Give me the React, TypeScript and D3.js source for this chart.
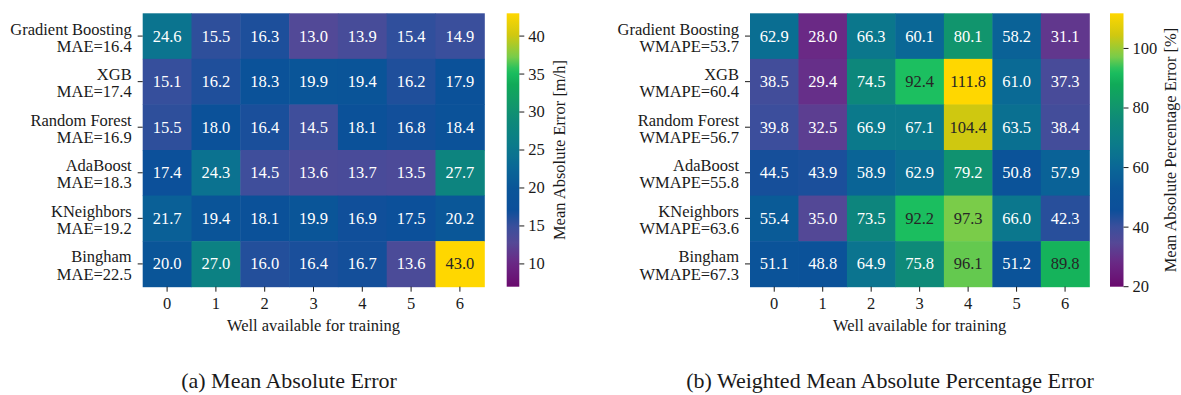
import React from "react";
import * as d3 from "d3";

// Models, one heatmap row each
const models = ["Gradient Boosting", "XGB", "Random Forest", "AdaBoost", "KNeighbors", "Bingham"];
// Wells available for training (columns)
const wells = [0, 1, 2, 3, 4, 5, 6];

// Mean absolute error [m/h] per model (rows) and well (columns)
const maeValues = [
  [24.6, 15.5, 16.3, 13.0, 13.9, 15.4, 14.9],
  [15.1, 16.2, 18.3, 19.9, 19.4, 16.2, 17.9],
  [15.5, 18.0, 16.4, 14.5, 18.1, 16.8, 18.4],
  [17.4, 24.3, 14.5, 13.6, 13.7, 13.5, 27.7],
  [21.7, 19.4, 18.1, 19.9, 16.9, 17.5, 20.2],
  [20.0, 27.0, 16.0, 16.4, 16.7, 13.6, 43.0],
];
const maeOverall = [16.4, 17.4, 16.9, 18.3, 19.2, 22.5];
const maeTicks = [10, 15, 20, 25, 30, 35, 40];
const maeRange = [7.0, 43.0];

// Weighted mean absolute percentage error [%]
const wmapeValues = [
  [62.9, 28.0, 66.3, 60.1, 80.1, 58.2, 31.1],
  [38.5, 29.4, 74.5, 92.4, 111.8, 61.0, 37.3],
  [39.8, 32.5, 66.9, 67.1, 104.4, 63.5, 38.4],
  [44.5, 43.9, 58.9, 62.9, 79.2, 50.8, 57.9],
  [55.4, 35.0, 73.5, 92.2, 97.3, 66.0, 42.3],
  [51.1, 48.8, 64.9, 75.8, 96.1, 51.2, 89.8],
];
const wmapeOverall = [53.7, 60.4, 56.7, 55.8, 63.6, 67.3];
const wmapeTicks = [20, 40, 60, 80, 100];
const wmapeRange = [20, 111.8];

const FONT =
  "'Liberation Serif', 'Noto Serif', 'DejaVu Serif', 'Nimbus Roman', FreeSerif, Times, serif";
const FS = 16.5;
const INK = "#1a1a1a";

// Bright viridis-like palette used for cells and colour bars
const paletteStops = [0, 0.09, 0.16, 0.22, 0.28, 0.36, 0.44, 0.52, 0.61, 0.66, 0.74, 0.79, 0.84, 0.92, 1];
const paletteColors = [
  "#6a0a6e", "#6a2a86", "#554896", "#3a4f9c", "#0c4f9a", "#0a5598", "#0a6896", "#0b7b8a",
  "#0e8a78", "#11966c", "#10aa58", "#1cc060", "#78cc4a", "#d0c810", "#ffd700",
];
const palette = d3
  .scaleLinear<string>()
  .domain(paletteStops)
  .range(paletteColors)
  .interpolate(d3.interpolateRgb)
  .clamp(true);

function luminance(color: string) {
  const c = d3.rgb(color);
  const lin = (v: number) => {
    const s = v / 255;
    return s <= 0.03928 ? s / 12.92 : Math.pow((s + 0.055) / 1.055, 2.4);
  };
  return 0.2126 * lin(c.r) + 0.7152 * lin(c.g) + 0.0722 * lin(c.b);
}

type PanelProps = {
  id: string;
  left: number;
  right: number;
  top: number;
  bottom: number;
  values: number[][];
  overall: number[];
  metric: string;
  range: number[];
  ticks: number[];
  cbarLeft: number;
  cbarWidth: number;
  cbarLabel: string;
  cbarLabelX: number;
  caption: string;
  captionX: number;
};

function Panel(p: PanelProps) {
  const x = d3.scaleBand<number>().domain(wells).range([p.left, p.right]).padding(0);
  const y = d3.scaleBand<string>().domain(models).range([p.top, p.bottom]).padding(0);
  const norm = d3.scaleLinear().domain(p.range).range([0, 1]).clamp(true);
  const cy = d3.scaleLinear().domain(p.range).range([p.bottom, p.top]);
  const stops = d3.range(0, 1.0001, 0.02);
  const gradId = `grad-${p.id}`;
  const cbRight = p.cbarLeft + p.cbarWidth;
  const midY = (p.top + p.bottom) / 2;

  return (
    <g>
      <defs>
        <linearGradient id={gradId} x1="0" y1="1" x2="0" y2="0">
          {stops.map((s) => (
            <stop key={s} offset={s} stopColor={palette(s)} />
          ))}
        </linearGradient>
      </defs>

      {/* heatmap cells */}
      {p.values.map((row, i) =>
        row.map((v, j) => {
          const t = norm(v);
          const fill = palette(t);
          const txt = luminance(d3.interpolateViridis(t)) > 0.408 ? "#262626" : "#ffffff";
          const cx = (x(wells[j]) as number) + x.bandwidth() / 2;
          const cyy = (y(models[i]) as number) + y.bandwidth() / 2;
          return (
            <g key={`${i}-${j}`}>
              <rect
                x={x(wells[j])}
                y={y(models[i])}
                width={x.bandwidth() + 0.5}
                height={y.bandwidth() + 0.5}
                fill={fill}
              />
              <text x={cx} y={cyy + FS * 0.33} textAnchor="middle" fontSize={FS} fill={txt}>
                {v.toFixed(1)}
              </text>
            </g>
          );
        })
      )}

      {/* row ticks and labels */}
      {models.map((m, i) => {
        const c = (y(m) as number) + y.bandwidth() / 2;
        return (
          <g key={m}>
            <line x1={p.left - 5} x2={p.left} y1={c} y2={c} stroke={INK} strokeWidth={1} />
            <text x={p.left - 11} y={c - 1.5} textAnchor="end" fontSize={FS} fill={INK}>
              {m}
            </text>
            <text x={p.left - 11} y={c + 15.6} textAnchor="end" fontSize={FS} fill={INK}>
              {`${p.metric}=${p.overall[i].toFixed(1)}`}
            </text>
          </g>
        );
      })}

      {/* column ticks and labels */}
      {wells.map((w) => {
        const c = (x(w) as number) + x.bandwidth() / 2;
        return (
          <g key={w}>
            <line x1={c} x2={c} y1={p.bottom} y2={p.bottom + 5} stroke={INK} strokeWidth={1} />
            <text x={c} y={p.bottom + 22.5} textAnchor="middle" fontSize={FS} fill={INK}>
              {w}
            </text>
          </g>
        );
      })}
      <text x={(p.left + p.right) / 2} y={p.bottom + 44.5} textAnchor="middle" fontSize={FS} fill={INK}>
        Well available for training
      </text>

      {/* colour bar */}
      <rect x={p.cbarLeft} y={p.top} width={p.cbarWidth} height={p.bottom - p.top} fill={`url(#${gradId})`} />
      {p.ticks.map((t) => (
        <g key={t}>
          <line x1={cbRight} x2={cbRight + 5} y1={cy(t)} y2={cy(t)} stroke={INK} strokeWidth={1} />
          <text x={cbRight + 9} y={cy(t) + FS * 0.33} fontSize={FS} fill={INK}>
            {t}
          </text>
        </g>
      ))}
      <text
        transform={`translate(${p.cbarLabelX},${midY}) rotate(-90)`}
        textAnchor="middle"
        y={FS * 0.33}
        fontSize={FS}
        fill={INK}
      >
        {p.cbarLabel}
      </text>

      {/* subfigure caption */}
      <text x={p.captionX} y={388} textAnchor="middle" fontSize={22} fill={INK}>
        {p.caption}
      </text>
    </g>
  );
}

export default function App() {
  return (
    <div style={{ position: "absolute", left: 0, top: 0 }}>
      <svg
        width={1181}
        height={395}
        style={{ display: "block", background: "#fff", fontFamily: FONT }}
      >
        <Panel
          id="mae"
          left={142.7}
          right={484.3}
          top={13.3}
          bottom={286.7}
          values={maeValues}
          overall={maeOverall}
          metric="MAE"
          range={maeRange}
          ticks={maeTicks}
          cbarLeft={506.7}
          cbarWidth={12.6}
          cbarLabel="Mean Absolute Error [m/h]"
          cbarLabelX={560}
          caption="(a) Mean Absolute Error"
          captionX={289}
        />
        <Panel
          id="wmape"
          left={750}
          right={1089.3}
          top={13.3}
          bottom={286.7}
          values={wmapeValues}
          overall={wmapeOverall}
          metric="WMAPE"
          range={wmapeRange}
          ticks={wmapeTicks}
          cbarLeft={1110}
          cbarWidth={13.5}
          cbarLabel="Mean Absolute Percentage Error [%]"
          cbarLabelX={1171}
          caption="(b) Weighted Mean Absolute Percentage Error"
          captionX={890}
        />
      </svg>
    </div>
  );
}
